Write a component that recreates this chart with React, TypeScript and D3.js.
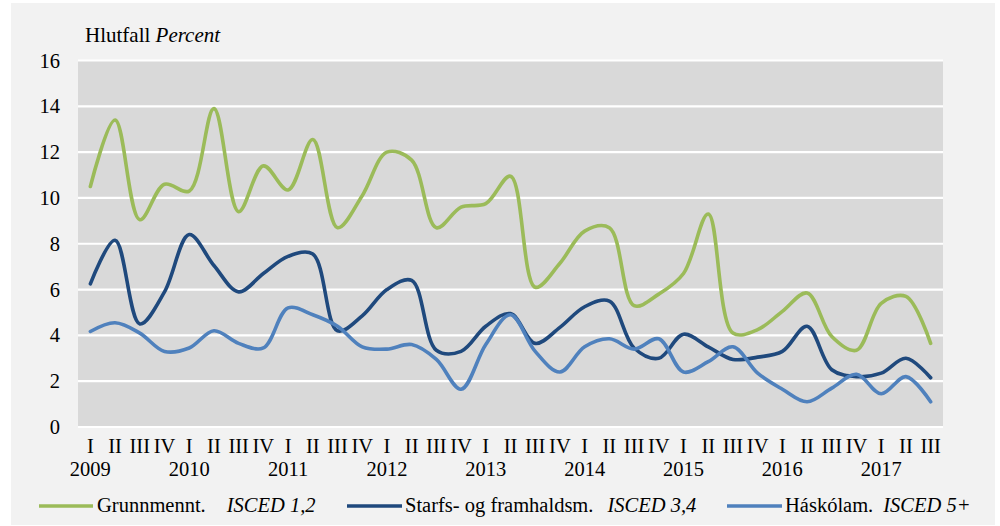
import React from "react";
import * as d3 from "d3";

const quarterNames = ["I", "II", "III", "IV"];
const years = ["2009", "2010", "2011", "2012", "2013", "2014", "2015", "2016", "2017"];
const categories: { q: string; year: string | null }[] = [];
years.forEach((y) => {
  quarterNames.forEach((q, qi) => {
    if (y === "2017" && qi === 3) return;
    categories.push({ q, year: qi === 0 ? y : null });
  });
});

const yTicks = [0, 2, 4, 6, 8, 10, 12, 14, 16];

const grunn = [10.5, 13.4, 9.05, 10.6, 10.3, 13.9, 9.4, 11.4, 10.35, 12.55, 8.7, 10.1, 12.0, 11.65, 8.7, 9.6, 9.75, 10.95, 6.1, 7.15, 8.55, 8.7, 5.3, 5.8, 6.7, 9.3, 4.1, 4.25, 5.05, 5.85, 3.95, 3.35, 5.4, 5.7, 3.65];
const starfs = [6.25, 8.15, 4.5, 5.9, 8.4, 7.05, 5.9, 6.7, 7.45, 7.55, 4.2, 4.85, 6.0, 6.4, 3.35, 3.3, 4.4, 4.95, 3.65, 4.35, 5.25, 5.5, 3.45, 3.0, 4.05, 3.5, 2.95, 3.05, 3.3, 4.4, 2.5, 2.2, 2.35, 3.0, 2.15];
const haskola = [4.17, 4.55, 4.1, 3.3, 3.45, 4.2, 3.65, 3.45, 5.2, 4.9, 4.4, 3.5, 3.4, 3.6, 2.95, 1.65, 3.6, 4.9, 3.3, 2.4, 3.5, 3.85, 3.4, 3.85, 2.4, 2.85, 3.5, 2.35, 1.65, 1.1, 1.7, 2.3, 1.45, 2.2, 1.1];

const seriesNames = ["Grunnmennt.", "Starfs- og framhaldsm.", "Háskólam."];
const seriesItalic = ["ISCED 1,2", "ISCED 3,4", "ISCED 5+"];
const seriesColors = ["#9BBB59", "#1F497D", "#4F81BD"];
const seriesData = [grunn, starfs, haskola];

const W = 1000;
const H = 526;
const FONT = '"Liberation Serif", "DejaVu Serif", "Times New Roman", serif';

export default function App() {
  const x = d3
    .scaleBand<number>()
    .domain(categories.map((_, i) => i))
    .range([78, 943])
    .padding(0);
  const y = d3.scaleLinear().domain([0, 16]).range([427, 60.5]);
  const cx = (i: number) => (x(i) as number) + x.bandwidth() / 2;

  const line = d3
    .line<number>()
    .x((_, i) => cx(i))
    .y((d) => y(d))
    .curve(d3.curveCatmullRom.alpha(0.5));

  const legendPos = [
    { x1: 39, x2: 93, tx: 97, gap: 21 },
    { x1: 347, x2: 402, tx: 405, gap: 14 },
    { x1: 727, x2: 782, tx: 785, gap: 10 },
  ];

  const ts: React.CSSProperties = { fontFamily: FONT, fontSize: 20.5 };

  return (
    <svg
      width={W}
      height={H}
      style={{ position: "absolute", left: 0, top: 0, display: "block", fontFamily: FONT }}
    >
      <rect x={0} y={0} width={W} height={H} fill="#ffffff" />
      <rect x={11} y={3} width={984} height={522} fill="#F2F2F2" />
      <rect x={78} y={y(16)} width={865} height={y(0) - y(16)} fill="#D9D9D9" />
      {yTicks.map((t) => (
        <g key={t}>
          <line x1={78} x2={943} y1={y(t)} y2={y(t)} stroke="#ffffff" strokeWidth={2.2} />
          <text x={60} y={y(t) + 7} textAnchor="end" style={ts} fill="#000">
            {t}
          </text>
        </g>
      ))}
      <text x={85} y={42} style={{ ...ts, fontSize: 21 }} fill="#000">
        Hlutfall <tspan style={{ fontStyle: "italic" }}>Percent</tspan>
      </text>
      {categories.map((c, i) => (
        <g key={i}>
          <text x={cx(i)} y={453} textAnchor="middle" style={ts} fill="#000">
            {c.q}
          </text>
          {c.year && (
            <text x={cx(i)} y={476} textAnchor="middle" style={ts} fill="#000">
              {c.year}
            </text>
          )}
        </g>
      ))}
      {seriesData.map((s, si) => (
        <path
          key={si}
          d={line(s) || ""}
          fill="none"
          stroke={seriesColors[si]}
          strokeWidth={3.6}
          strokeLinejoin="round"
          strokeLinecap="round"
        />
      ))}
      {seriesNames.map((n, si) => (
        <g key={n}>
          <line
            x1={legendPos[si].x1}
            x2={legendPos[si].x2}
            y1={506}
            y2={506}
            stroke={seriesColors[si]}
            strokeWidth={3.6}
          />
          <text x={legendPos[si].tx} y={512} style={ts} fill="#000">
            {n}
            <tspan dx={legendPos[si].gap} style={{ fontStyle: "italic" }}>
              {seriesItalic[si]}
            </tspan>
          </text>
        </g>
      ))}
    </svg>
  );
}
